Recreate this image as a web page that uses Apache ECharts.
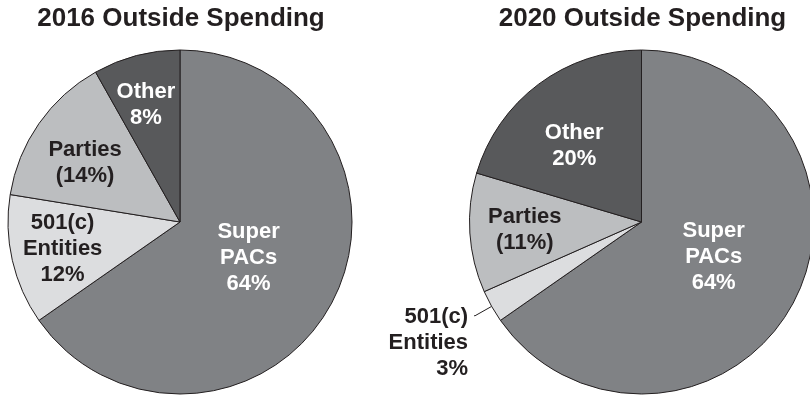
<!DOCTYPE html>
<html>
<head>
<meta charset="utf-8">
<script src="https://cdn.jsdelivr.net/npm/echarts@6/dist/echarts.min.js"></script>
<style>
  html, body { margin: 0; padding: 0; background: #ffffff; }
  #chart { width: 810px; height: 396px; }
</style>
</head>
<body>
<div id="chart"></div>
<script>
// ---- data ----
const categories = ['Super PACs', '501(c) Entities', 'Parties', 'Other'];
const spending2016 = [64, 12, 14, 8];
const spending2020 = [64, 3, 11, 20];
const chartTitles = ['2016 Outside Spending', '2020 Outside Spending'];
// label wording per category ({c} is the slice value)
const labelFormats = ['Super\nPACs\n{c}%', '501(c)\nEntities\n{c}%', 'Parties\n({c}%)', 'Other\n{c}%'];

// ---- styling / layout ----
const FONT = '"Liberation Sans", Arial, Helvetica, sans-serif';
const INK = '#231f20';
const LINE_H = 26;
const sliceColors = ['#808285', '#dcdddf', '#bcbec0', '#58595b'];
const labelColors = ['#ffffff', INK, INK, '#ffffff'];
const pieCenters = [[180, 222], [641.5, 222]];
const pieRadius = 172;
// inside-label placement: [fraction of radius, angular nudge in degrees]; null = outside label
const labelPlacement = [
  [[0.45, 0], [0.70, 0], [0.65, -3], [0.71, -1.5]],
  [[0.465, -2], null, [0.68, 0], [0.59, -4.8]]
];

function buildSeries(values, idx) {
  const center = pieCenters[idx];
  return {
    type: 'pie',
    center: center,
    radius: pieRadius,
    startAngle: 90,
    clockwise: true,
    avoidLabelOverlap: false,
    animation: false,
    silent: true,
    emphasis: { disabled: true },
    itemStyle: { borderColor: INK, borderWidth: 1 },
    labelLine: { show: false },
    data: values.map((v, i) => {
      const outside = labelPlacement[idx][i] === null;
      const item = {
        name: categories[i],
        value: v,
        itemStyle: { color: sliceColors[i] },
        label: {
          show: true,
          position: outside ? 'outside' : 'inside',
          formatter: labelFormats[i],
          color: outside ? INK : labelColors[i],
          fontFamily: FONT,
          fontWeight: 'bold',
          fontSize: 22,
          lineHeight: LINE_H,
          align: outside ? 'right' : 'center'
        }
      };
      if (outside) {
        item.label.distanceToLabelLine = 6;
        item.labelLine = {
          show: true,
          length: 19,
          length2: 1,
          smooth: false,
          lineStyle: { color: INK, width: 1 }
        };
      }
      return item;
    }),
    labelLayout: function (params) {
      const place = labelPlacement[idx][params.dataIndex];
      if (!place) {
        // outside label: first text line level with the leader line's end
        return { dy: LINE_H + 1, labelLinePoints: params.labelLinePoints };
      }
      const r = params.labelRect;
      const cx = r.x + r.width / 2;
      const cy = r.y + r.height / 2;
      const ang = Math.atan2(cy - center[1], cx - center[0]) + place[1] * Math.PI / 180;
      const tx = center[0] + place[0] * pieRadius * Math.cos(ang);
      const ty = center[1] + place[0] * pieRadius * Math.sin(ang);
      return { dx: tx - cx, dy: ty - cy };
    }
  };
}

const chart = echarts.init(document.getElementById('chart'), null, { renderer: 'canvas' });
chart.setOption({
  backgroundColor: '#ffffff',
  animation: false,
  graphic: chartTitles.map((t, i) => ({
    type: 'text',
    x: pieCenters[i][0] + 1,
    y: 19,
    style: {
      text: t,
      fill: INK,
      font: 'bold 26px ' + FONT,
      textAlign: 'center',
      textVerticalAlign: 'middle'
    }
  })),
  series: [buildSeries(spending2016, 0), buildSeries(spending2020, 1)]
});
</script>
</body>
</html>
